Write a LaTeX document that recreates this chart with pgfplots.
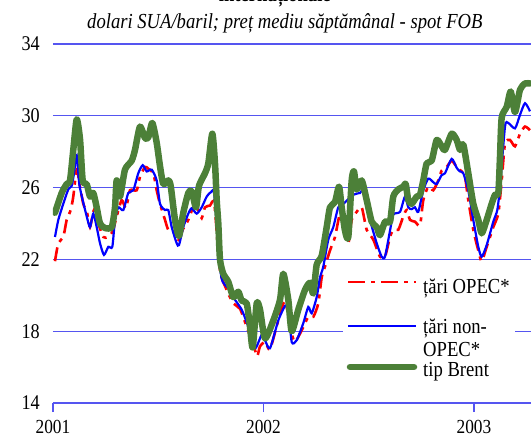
\documentclass[border=0pt]{standalone}
\usepackage{fontspec}
\setmainfont[FakeStretch=0.87]{Liberation Serif}
\usepackage{pgfplots}
\pgfplotsset{compat=1.18}
\usetikzlibrary{calc}
\definecolor{gridblue}{RGB}{85,85,240}
\definecolor{brent}{RGB}{76,128,56}
% pixel offsets (from the 2001/14 corner of the axis) -> point
\newcommand{\px}[2]{($(ax.south west)+(#1bp-53bp,403bp-#2bp)$)}

\begin{document}
\begin{tikzpicture}
\begin{axis}[
  name=ax,
  scale only axis, width=478bp, height=359bp,
  xmin=0, xmax=2.2708, ymin=14, ymax=34,
  xtick={0,1,2}, xticklabels={2001,2002,2003},
  ytick={14,18,...,34},
  ymajorgrids, grid style={gridblue, line width=1.2bp},
  axis line style={draw=none},
  xtick pos=left, tick align=outside, major tick length=9bp,
  xtick style={gridblue, line width=1.2bp},
  ytick style={draw=none},
  /pgf/number format/assume math mode=true,
  yticklabel style={font=\fontsize{21}{23}\selectfont, anchor=east, inner sep=0pt, xshift=-4bp},
  xticklabel style={font=\fontsize{20}{22}\selectfont, anchor=base, inner sep=0pt, yshift=-21bp},
]
% tari OPEC
\addplot[red, line width=2.6bp, dash pattern=on 14bp off 6bp on 4bp off 6bp, smooth, tension=0.4]
coordinates {(0.0095,21.9)(0.0252,22.9)(0.0489,23.25)(0.0651,24.2)(0.0841,24.75)(0.0964,25.5)(0.1126,27.0)(0.1283,26.05)(0.1439,25.1)(0.1629,24.55)(0.1758,23.8)(0.1948,24.75)(0.2152,24.0)(0.2390,23.25)(0.2613,23.25)(0.2836,23.55)(0.3026,24.4)(0.3264,25.3)(0.3468,24.85)(0.3658,25.85)(0.3976,25.85)(0.4133,26.6)(0.4371,27.15)(0.4527,27.05)(0.4765,26.8)(0.4926,25.85)(0.5083,25.1)(0.5321,24.2)(0.5477,23.65)(0.5715,23.65)(0.5952,23.1)(0.6162,23.65)(0.6428,24.2)(0.6665,24.9)(0.6903,24.75)(0.7064,24.3)(0.7221,24.9)(0.7458,25.0)(0.7663,25.1)(0.7933,21.4)(0.8252,20.3)(0.8565,19.55)(0.8884,19.25)(0.9202,18.25)(0.9439,17.5)(0.9596,16.95)(0.9705,16.6)(0.9834,17.15)(1.0071,17.4)(1.0309,17.0)(1.0703,18.6)(1.1021,19.65)(1.1340,17.9)(1.1496,17.4)(1.1815,18.05)(1.2128,18.8)(1.2366,18.8)(1.2603,19.55)(1.2765,21.0)(1.2922,21.6)(1.3159,22.5)(1.3397,23.25)(1.3634,24.55)(1.3791,23.8)(1.4029,22.9)(1.4190,24.2)(1.4428,24.65)(1.4665,24.9)(1.4903,23.65)(1.5216,23.1)(1.5534,22.15)(1.5772,22.15)(1.6010,23.25)(1.6166,23.65)(1.6404,23.65)(1.6641,24.4)(1.6803,24.75)(1.6960,24.2)(1.7197,24.1)(1.7435,23.9)(1.7591,25.3)(1.7829,26.05)(1.8066,25.85)(1.8304,26.4)(1.8466,26.95)(1.8703,27.15)(1.8941,27.5)(1.9178,27.15)(1.9416,26.9)(1.9572,26.6)(1.9729,25.3)(1.9967,23.65)(2.0204,22.5)(2.0366,21.9)(2.0603,22.7)(2.0917,23.8)(2.1154,24.55)(2.1316,26.4)(2.1473,28.45)(2.1710,28.65)(2.1948,28.3)(2.2185,29.0)(2.2423,29.4)(2.2660,29.2)};
% tari non-OPEC
\addplot[blue, line width=2.2bp, smooth, tension=0.4]
coordinates {(0.0095,23.25)(0.0252,24.2)(0.0489,25.1)(0.0727,25.9)(0.0888,26.1)(0.0998,26.8)(0.1126,27.8)(0.1249,26.2)(0.1411,25.3)(0.1601,24.4)(0.1758,23.8)(0.1914,24.55)(0.2076,23.8)(0.2233,22.9)(0.2423,22.25)(0.2627,22.7)(0.2817,22.7)(0.2945,24.2)(0.3102,24.9)(0.3340,24.75)(0.3577,25.7)(0.3815,25.85)(0.4052,26.8)(0.4261,27.25)(0.4451,26.9)(0.4689,27.0)(0.4926,26.4)(0.5083,25.1)(0.5321,24.75)(0.5477,24.75)(0.5639,23.8)(0.5876,22.9)(0.5986,22.8)(0.6190,23.8)(0.6428,24.55)(0.6589,24.85)(0.6827,24.55)(0.7064,24.9)(0.7302,25.5)(0.7506,25.75)(0.7663,25.6)(0.7933,21.6)(0.8062,20.75)(0.8328,20.4)(0.8646,19.75)(0.8964,19.2)(0.9278,18.25)(0.9596,17.05)(0.9914,17.8)(1.0071,17.5)(1.0309,17.05)(1.0703,18.6)(1.1021,19.4)(1.1178,19.3)(1.1340,17.4)(1.1577,17.5)(1.1891,18.45)(1.2128,19.35)(1.2290,19.0)(1.2527,19.9)(1.2684,21.0)(1.2841,21.6)(1.3078,23.1)(1.3316,23.8)(1.3553,24.9)(1.3800,25.1)(1.4266,25.6)(1.4584,25.7)(1.4741,25.8)(1.5059,24.2)(1.5378,22.9)(1.5615,22.15)(1.5772,22.15)(1.6010,23.6)(1.6166,24.5)(1.6485,24.65)(1.6722,25.5)(1.6879,24.9)(1.7040,24.8)(1.7197,24.9)(1.7354,24.65)(1.7591,25.85)(1.7829,26.5)(1.8066,26.3)(1.8228,26.2)(1.8466,26.7)(1.8622,26.8)(1.8941,27.6)(1.9178,27.1)(1.9335,26.9)(1.9492,26.8)(1.9729,25.85)(1.9967,24.2)(2.0204,22.7)(2.0366,22.15)(2.0603,22.8)(2.0917,24.1)(2.1107,24.75)(2.1235,26.05)(2.1473,29.4)(2.1629,29.6)(2.1948,29.3)(2.2185,30.05)(2.2423,30.7)(2.2660,30.25)};
% tip Brent
\addplot[brent, line width=6.5bp, line cap=round, line join=round, smooth, tension=0.4]
coordinates {(0.0095,24.6)(0.0413,25.7)(0.0651,26.2)(0.0808,26.4)(0.0964,28.1)(0.1126,29.8)(0.1283,28.7)(0.1411,26.4)(0.1601,26.2)(0.1758,25.5)(0.1914,25.7)(0.2076,24.9)(0.2233,24.0)(0.2470,23.75)(0.2789,23.8)(0.2945,24.9)(0.3026,26.4)(0.3183,25.5)(0.3420,27.0)(0.3739,27.5)(0.3895,28.1)(0.4133,29.4)(0.4371,28.75)(0.4527,28.8)(0.4717,29.6)(0.4926,28.5)(0.5083,27.2)(0.5240,26.2)(0.5477,26.4)(0.5591,26.1)(0.5796,24.2)(0.5986,23.3)(0.6190,24.6)(0.6428,25.7)(0.6589,25.8)(0.6793,24.9)(0.6936,26.1)(0.7221,26.8)(0.7378,27.35)(0.7568,29.0)(0.7696,27.35)(0.7777,25.3)(0.7853,24.0)(0.7933,22.0)(0.8090,21.2)(0.8328,20.75)(0.8565,19.9)(0.8803,20.2)(0.8964,19.7)(0.9202,19.55)(0.9359,18.25)(0.9487,17.1)(0.9677,19.55)(0.9834,19.2)(1.0071,17.6)(1.0466,18.6)(1.0784,19.75)(1.0941,21.2)(1.1178,19.75)(1.1340,18.0)(1.1653,19.2)(1.1971,20.3)(1.2209,20.7)(1.2366,20.1)(1.2527,21.7)(1.2765,22.2)(1.3002,23.8)(1.3159,24.9)(1.3397,25.2)(1.3587,26.05)(1.3715,24.9)(1.3872,23.6)(1.4029,23.25)(1.4190,26.4)(1.4299,26.9)(1.4428,25.9)(1.4665,26.4)(1.4903,25.3)(1.5140,24.1)(1.5378,23.8)(1.5534,23.35)(1.5772,24.1)(1.6010,24.1)(1.6166,25.5)(1.6404,25.9)(1.6641,26.05)(1.6755,26.2)(1.6879,25.3)(1.7040,25.1)(1.7278,25.5)(1.7435,25.6)(1.7591,26.4)(1.7753,27.35)(1.7990,27.5)(1.8228,28.65)(1.8466,28.3)(1.8622,28.1)(1.8941,29.0)(1.9178,28.65)(1.9335,28.1)(1.9492,28.4)(1.9729,26.8)(1.9967,25.1)(2.0204,24.2)(2.0366,23.45)(2.0603,24.2)(2.0841,25.1)(2.0998,25.6)(2.1154,25.7)(2.1235,27.7)(2.1316,29.9)(2.1554,30.5)(2.1743,31.35)(2.1948,30.2)(2.2185,31.45)(2.2423,31.8)(2.2660,31.8)};
\end{axis}
% legend
\fill[white] \px{343}{266} rectangle \px{515}{392};
\draw[red, line width=2.6bp, dash pattern=on 17bp off 6bp on 4bp off 6bp] \px{348}{282} -- \px{416}{282};
\draw[blue, line width=2.2bp] \px{348}{326} -- \px{416}{326};
\draw[brent, line width=6.5bp, line cap=round] \px{350}{367} -- \px{414}{367};
\begin{scope}[every node/.style={font=\fontsize{21.5}{23}\selectfont, anchor=base west, inner sep=0pt}]
\node at \px{423}{294} {țări OPEC*};
\node at \px{423}{334} {țări non-};
\node at \px{423}{357} {OPEC*};
\node at \px{423}{376} {tip Brent};
\end{scope}
% titles
\node[font=\fontsize{21.5}{23}\selectfont\itshape, anchor=base]
  at ($(ax.north west)!0.485!(ax.north east)+(0,15bp)$)
  {dolari SUA/baril; preț mediu săptămânal - spot FOB};
\node[font=\fontsize{21.5}{23}\selectfont\bfseries, anchor=base]
  at ($(ax.north west)!0.464!(ax.north east)+(0,42.5bp)$)
  {internaționale};
\pgfresetboundingbox
\useasboundingbox ($(ax.south west)+(-53bp,-31bp)$) rectangle ($(ax.north east)+(0,44bp)$);
\end{tikzpicture}
\end{document}
